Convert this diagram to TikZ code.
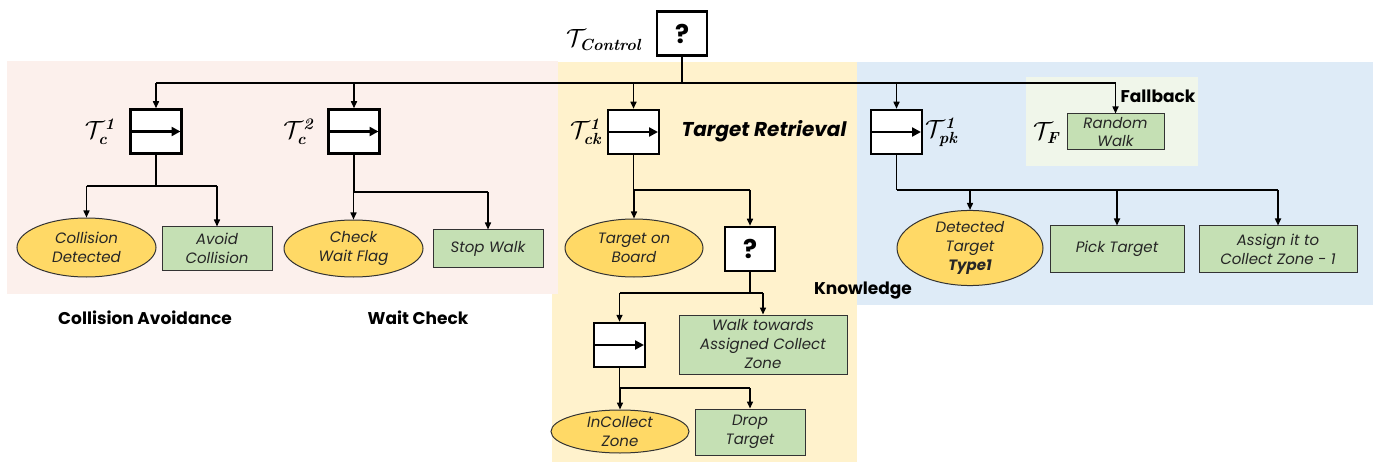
\documentclass[tikz,border=0pt]{standalone}
\usepackage{amsmath}
\usepackage{fontspec}
\setsansfont{Poppins}
\usetikzlibrary{shapes.geometric,arrows.meta}
\definecolor{pinkbg}{HTML}{FCF0EC}
\definecolor{yellowbg}{HTML}{FFF2CC}
\definecolor{bluebg}{HTML}{DEEBF7}
\definecolor{fallbg}{HTML}{F0F6EA}
\definecolor{gold}{HTML}{FFD966}
\definecolor{actgreen}{HTML}{C5E0B4}
\newcommand{\bsub}[1]{\textbf{\textit{#1}}}
\begin{document}
\begin{tikzpicture}[x=1pt,y=-1pt,
  nodefont/.style={font=\sffamily\itshape\fontsize{15}{19}\selectfont, text=black!85},
  seqbox/.style={draw, line width=2.5pt, fill=white, minimum width=51pt, minimum height=44pt, inner sep=0pt,
    path picture={\draw[line width=2.5pt,-{Triangle[length=9pt,width=9pt]}] ([xshift=1pt]path picture bounding box.west) -- ([xshift=-1pt]path picture bounding box.east);}},
  selbox/.style={draw, line width=2.5pt, fill=white, minimum width=50pt, minimum height=44pt, inner sep=0pt,
    font=\sffamily\bfseries\fontsize{26}{26}\selectfont},
  cond/.style={ellipse, draw=black!80, line width=1pt, fill=gold, inner sep=0pt, align=center, nodefont},
  act/.style={rectangle, draw=black!80, line width=1pt, fill=actgreen, inner sep=0pt, align=center, nodefont},
  bus/.style={line width=2.5pt},
  tree/.style={line width=1.5pt},
  arr/.style={line width=1.5pt, -{Triangle[length=7pt,width=6pt]}},
  lbl/.style={font=\fontsize{23}{23}\selectfont, inner sep=0pt},
  title/.style={font=\sffamily\bfseries\fontsize{17}{17}\selectfont, inner sep=0pt}
]
\useasboundingbox (0,0) rectangle (1375,462);
% regions
\fill[yellowbg] (552,62) rectangle (857,462);
\fill[pinkbg] (7,61) rectangle (558,294);
\fill[bluebg] (857,62) rectangle (1373,305);
\fill[fallbg] (1026,77) rectangle (1198,166);

% nodes
\node[selbox] (ctrl) at (682,33.5) {?};
\node[lbl] (lctrl) at (604,40) {$\mathcal{T}_{\bsub{Control}}$};

\node[seqbox] (c1) at (156,131.5) {};
\node[lbl, anchor=east] (lc1) at (115,132) {$\mathcal{T}_{\bsub{c}}^{\bsub{1}}$};
\node[seqbox] (c2) at (354,131.5) {};
\node[lbl, anchor=east] (lc2) at (314,132) {$\mathcal{T}_{\bsub{c}}^{\bsub{2}}$};
\node[seqbox] (ck) at (633.5,132) {};
\node[lbl, anchor=east] (lck) at (602,132) {$\mathcal{T}_{\bsub{ck}}^{\bsub{1}}$};
\node[seqbox] (pk) at (896.5,132) {};
\node[lbl, anchor=west] (lpk) at (925,132) {$\mathcal{T}_{\bsub{pk}}^{\bsub{1}}$};

\node[act, minimum width=97pt, minimum height=36pt, font=\sffamily\itshape\fontsize{15}{18}\selectfont] (rw) at (1115.5,132) {Random\\Walk};
\node[lbl, anchor=west] (lf) at (1033,133) {$\mathcal{T}_{\bsub{F}}$};

\node[cond, minimum width=139pt, minimum height=59pt] (cd) at (86.5,247.5) {Collision\\Detected};
\node[act, minimum width=110pt, minimum height=43pt] (ac) at (217,248.5) {Avoid\\Collision};
\node[cond, minimum width=139pt, minimum height=57pt] (cw) at (353.5,248.5) {Check\\Wait Flag};
\node[act, minimum width=110pt, minimum height=37pt] (sw) at (488,248.5) {Stop Walk};

\node[cond, minimum width=138pt, minimum height=58pt] (tb) at (634,248) {Target on\\Board};
\node[selbox] (q2) at (750,249) {?};
\node[seqbox] (s3) at (619.5,345) {};
\node[act, minimum width=168pt, minimum height=59pt] (wt) at (763,344.5) {Walk towards\\Assigned Collect\\Zone};
\node[cond, minimum width=138pt, minimum height=43pt] (ic) at (620,431.5) {InCollect\\Zone};
\node[act, minimum width=110pt, minimum height=46pt] (dt) at (750,432) {Drop\\Target};

\node[cond, minimum width=146pt, minimum height=72pt] (dtt) at (970,248) {Detected\\Target\\\textbf{Type1}};
\node[act, minimum width=134pt, minimum height=46pt] (pt) at (1117,249) {Pick Target};
\node[act, minimum width=158pt, minimum height=46pt] (as) at (1278,249) {Assign it to\\Collect Zone - 1};

% titles
\node[title] (tca) at (145,318) {Collision Avoidance};
\node[title] (twc) at (418,318) {Wait Check};
\node[title, font=\sffamily\bfseries\itshape\fontsize{20}{20}\selectfont] (ttr) at (764,131) {Target Retrieval};
\node[title] (tkn) at (863,291) {Knowledge};
\node[title] (tfb) at (1158,96) {Fallback};

% connectors: root bus
\coordinate (bus) at (682,83);
\draw[bus] (ctrl.south) -- (bus);
\draw[bus] (c1.north |- bus) -- (rw.north |- bus);
\foreach \n in {c1,c2,ck,pk,rw} \draw[arr] (\n.north |- bus) -- (\n.north);

% T_c^1
\coordinate (j1) at (156,186);
\draw[tree] (c1.south) -- (j1);
\draw[tree] (cd.north |- j1) -- (ac.north |- j1);
\draw[arr] (cd.north |- j1) -- (cd.north);
\draw[arr] (ac.north |- j1) -- (ac.north);
% T_c^2
\coordinate (j2) at (354,192);
\draw[tree] (c2.south) -- (j2);
\draw[tree] (cw.north |- j2) -- (sw.north |- j2);
\draw[arr] (cw.north |- j2) -- (cw.north);
\draw[arr] (sw.north |- j2) -- (sw.north);
% T_ck^1
\coordinate (j3) at (633.5,190);
\draw[tree] (ck.south) -- (j3);
\draw[tree] (tb.north |- j3) -- (q2.north |- j3);
\draw[arr] (tb.north |- j3) -- (tb.north);
\draw[arr] (q2.north |- j3) -- (q2.north);
% ? under ck
\coordinate (j4) at (750,293);
\draw[tree] (q2.south) -- (j4);
\draw[tree] (s3.north |- j4) -- (wt.north |- j4);
\draw[arr] (s3.north |- j4) -- (s3.north);
\draw[arr] (wt.north |- j4) -- (wt.north);
% inner sequence
\coordinate (j5) at (619.5,388);
\draw[tree] (s3.south) -- (j5);
\draw[tree] (ic.north |- j5) -- (dt.north |- j5);
\draw[arr] (ic.north |- j5) -- (ic.north);
\draw[arr] (dt.north |- j5) -- (dt.north);
% T_pk^1
\coordinate (j6) at (896.5,190);
\draw[tree] (pk.south) -- (j6);
\draw[tree] (j6) -- (as.north |- j6);
\draw[arr] (dtt.north |- j6) -- (dtt.north);
\draw[arr] (pt.north |- j6) -- (pt.north);
\draw[arr] (as.north |- j6) -- (as.north);
\end{tikzpicture}
\end{document}
